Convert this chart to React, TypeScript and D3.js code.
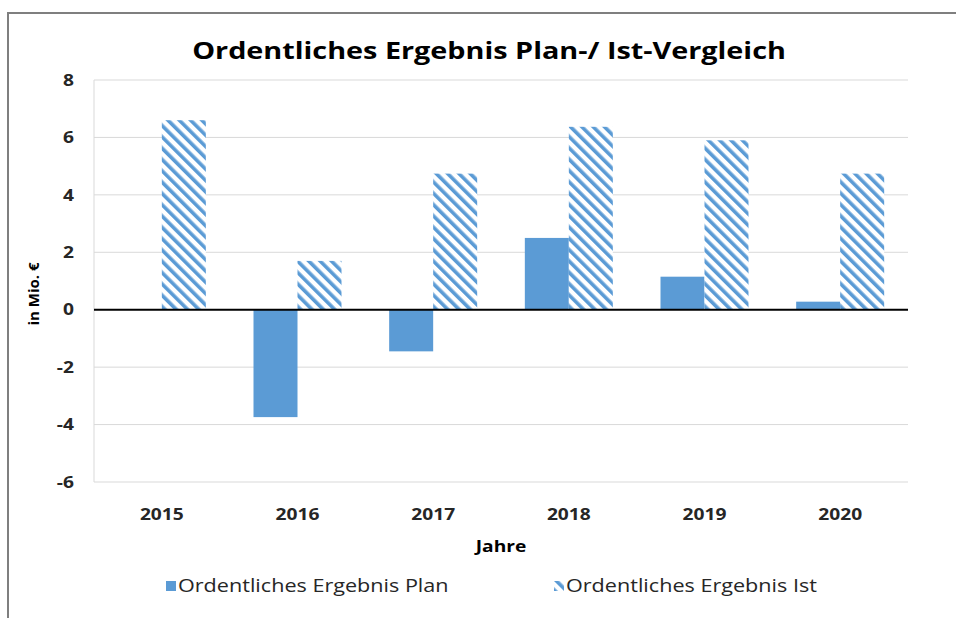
import React, { useEffect, useRef } from 'react';
import * as d3 from 'd3';

const years = ['2015', '2016', '2017', '2018', '2019', '2020'];
const planValues = [0, -3.74, -1.45, 2.5, 1.15, 0.28];
const istValues = [6.6, 1.7, 4.74, 6.37, 5.9, 4.74];
const yTicks = [-6, -4, -2, 0, 2, 4, 6, 8];
const seriesNames = ['Ordentliches Ergebnis Plan', 'Ordentliches Ergebnis Ist'];

const FONT = '"Open Sans", Lato, sans-serif';
const BLUE = '#5b9bd5';
// the reference text is a little wider than it is tall
const SX = 1.2;

export default function App() {
  const ref = useRef<SVGSVGElement>(null);

  useEffect(() => {
    const svg = d3.select(ref.current);
    svg.selectAll('*').remove();

    const width = 956, height = 618;
    const left = 94, right = 908, top = 80, bottom = 482;

    svg.attr('width', width).attr('height', height);
    svg.append('rect').attr('width', width).attr('height', height).attr('fill', '#fff');

    // hatch for the Ist series
    const defs = svg.append('defs');
    const pat = defs.append('pattern')
      .attr('id', 'hatch')
      .attr('patternUnits', 'userSpaceOnUse')
      .attr('width', 8)
      .attr('height', 8)
      .attr('patternTransform', 'rotate(-45)');
    pat.append('rect').attr('width', 8).attr('height', 8).attr('fill', '#fff');
    pat.append('rect').attr('x', 0).attr('width', 3.6).attr('height', 8).attr('fill', BLUE);

    // outer frame: only top and left edges are in view
    svg.append('path')
      .attr('d', `M8,${height} L8,13 L${width},13`)
      .attr('fill', 'none')
      .attr('stroke', '#7f7f7f')
      .attr('stroke-width', 2);

    const x = d3.scaleBand().domain(years).range([left, right]).paddingInner(0).paddingOuter(0);
    const y = d3.scaleLinear().domain([-6, 8]).range([bottom, top]);

    const barW = 44;

    // gridlines
    svg.append('g')
      .selectAll('line')
      .data(yTicks.filter(d => d !== 0))
      .join('line')
      .attr('x1', left).attr('x2', right)
      .attr('y1', d => y(d)).attr('y2', d => y(d))
      .attr('stroke', '#d9d9d9')
      .attr('stroke-width', 1);

    svg.append('line')
      .attr('x1', left).attr('x2', left)
      .attr('y1', top).attr('y2', bottom)
      .attr('stroke', '#d9d9d9');

    // y tick labels
    svg.append('g')
      .selectAll('text')
      .data(yTicks)
      .join('text')
      .attr('transform', d => `translate(74,${y(d)}) scale(${SX},1)`)
      .attr('dy', '0.36em')
      .attr('text-anchor', 'end')
      .attr('font-family', FONT)
      .attr('font-weight', 'bold')
      .attr('font-size', 16)
      .attr('fill', '#262626')
      .text(d => d);

    // bars
    svg.append('g')
      .selectAll('rect')
      .data(years)
      .join('rect')
      .attr('x', d => x(d)! + x.bandwidth() / 2 - barW)
      .attr('width', barW)
      .attr('y', (d, i) => y(Math.max(0, planValues[i])))
      .attr('height', (d, i) => Math.abs(y(planValues[i]) - y(0)))
      .attr('fill', BLUE);

    svg.append('g')
      .selectAll('rect')
      .data(years)
      .join('rect')
      .attr('x', d => x(d)! + x.bandwidth() / 2)
      .attr('width', barW)
      .attr('y', (d, i) => y(Math.max(0, istValues[i])))
      .attr('height', (d, i) => Math.abs(y(istValues[i]) - y(0)))
      .attr('fill', 'url(#hatch)');

    // zero line
    svg.append('line')
      .attr('x1', left).attr('x2', right)
      .attr('y1', y(0)).attr('y2', y(0))
      .attr('stroke', '#000')
      .attr('stroke-width', 2);

    // x labels
    svg.append('g')
      .selectAll('text')
      .data(years)
      .join('text')
      .attr('transform', d => `translate(${x(d)! + x.bandwidth() / 2},520) scale(${SX},1)`)
      .attr('text-anchor', 'middle')
      .attr('font-family', FONT)
      .attr('font-weight', 'bold')
      .attr('font-size', 16)
      .attr('fill', '#262626')
      .text(d => d);

    // titles
    svg.append('text')
      .attr('transform', `translate(489,59) scale(${SX},1)`)
      .attr('text-anchor', 'middle')
      .attr('font-family', FONT)
      .attr('font-weight', 'bold')
      .attr('font-size', 24)
      .attr('fill', '#000')
      .text('Ordentliches Ergebnis Plan-/ Ist-Vergleich');

    svg.append('text')
      .attr('transform', `translate(501,552) scale(${SX},1)`)
      .attr('text-anchor', 'middle')
      .attr('font-family', FONT)
      .attr('font-weight', 'bold')
      .attr('font-size', 16)
      .attr('fill', '#000')
      .text('Jahre');

    svg.append('text')
      .attr('transform', `translate(39,294) rotate(-90)`)
      .attr('text-anchor', 'middle')
      .attr('font-family', FONT)
      .attr('font-weight', 'bold')
      .attr('font-size', 15)
      .attr('fill', '#000')
      .text('in Mio. €');

    // legend
    const legendX = [166, 554];
    const lg = svg.append('g')
      .selectAll('g')
      .data(seriesNames)
      .join('g')
      .attr('transform', (d, i) => `translate(${legendX[i]},581)`);
    lg.append('rect')
      .attr('width', 10).attr('height', 10)
      .attr('fill', (d, i) => (i === 0 ? BLUE : 'url(#hatch)'));
    lg.append('text')
      .attr('transform', `translate(12,5) scale(${SX},1)`)
      .attr('dy', '0.36em')
      .attr('font-family', FONT)
      .attr('font-size', 18)
      .attr('fill', '#262626')
      .text(d => d);
  }, []);

  return (
    <svg ref={ref} style={{ position: 'fixed', left: 0, top: 0, display: 'block' }}></svg>
  );
}
